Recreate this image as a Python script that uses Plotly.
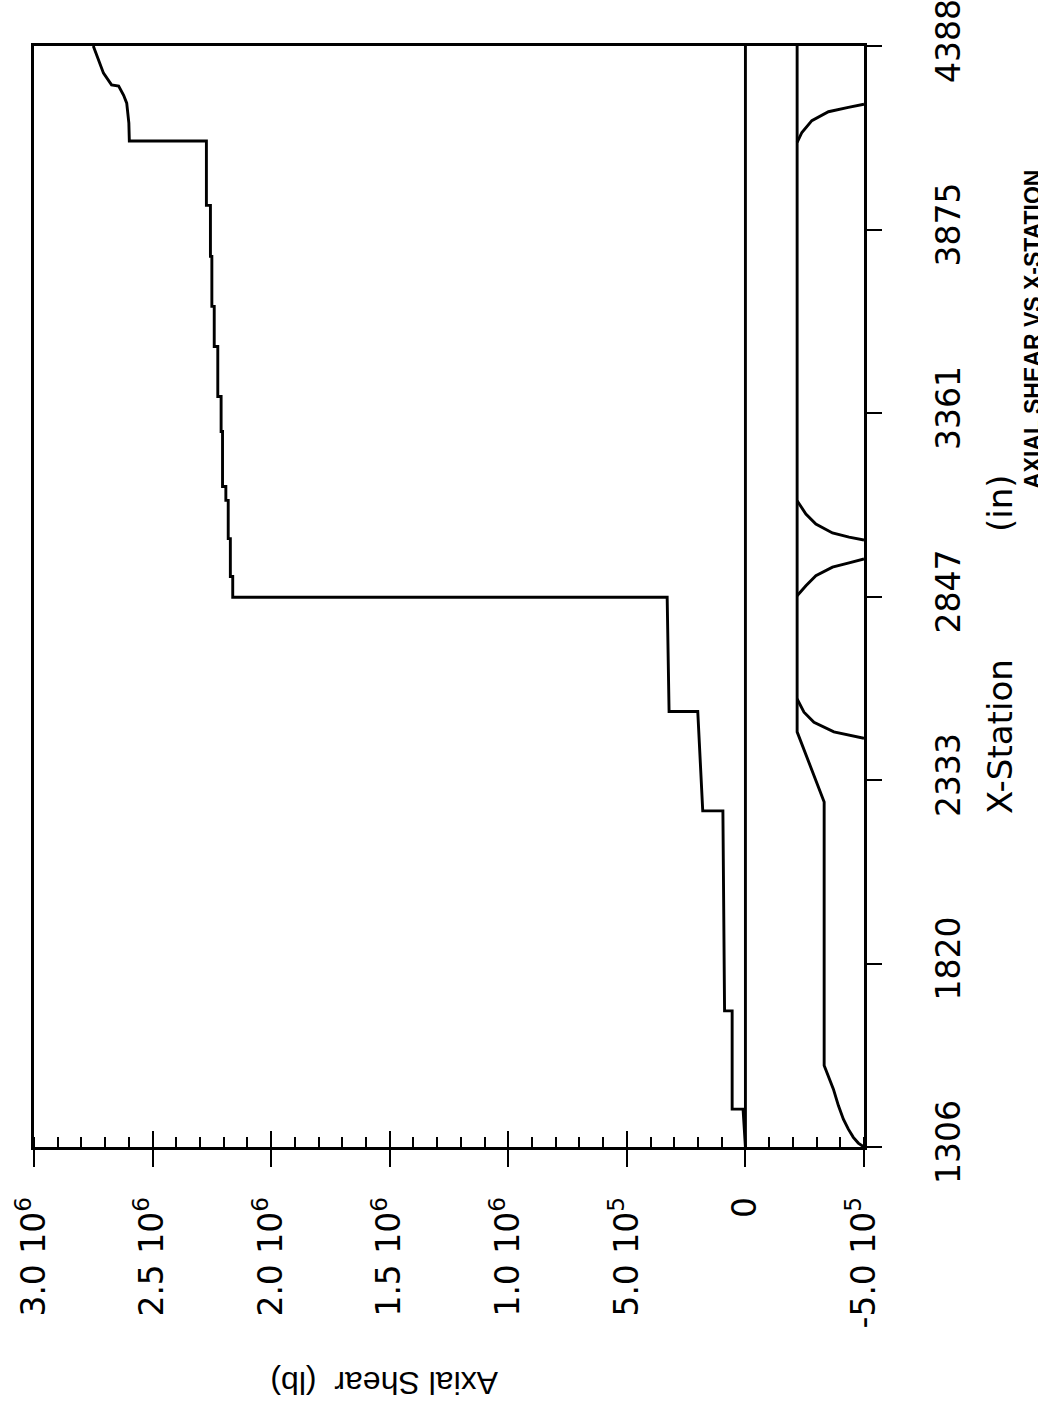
import plotly.graph_objects as go

# ---------------- data (station in inches, axial shear in lb) ----------------
main_station = [1306, 1412, 1412, 1687, 1687, 2247, 2247, 2525, 2525, 2845,
                2845, 2903, 2903, 3009, 3009, 3116, 3116, 3155, 3155, 3309,
                3309, 3407, 3407, 3547, 3547, 3659, 3659, 3799, 3799, 3942,
                3942, 4122, 4122, 4172, 4228, 4250, 4276, 4279, 4312, 4346,
                4368, 4388]
main_shear = [0, 1.0e4, 5.6e4, 5.6e4, 8.8e4, 9.5e4, 1.80e5, 2.01e5, 3.22e5, 3.30e5,
              2.162e6, 2.162e6, 2.172e6, 2.172e6, 2.181e6, 2.181e6, 2.191e6, 2.191e6, 2.205e6, 2.205e6,
              2.211e6, 2.211e6, 2.225e6, 2.225e6, 2.240e6, 2.240e6, 2.250e6, 2.250e6, 2.256e6, 2.256e6,
              2.273e6, 2.273e6, 2.598e6, 2.600e6, 2.609e6, 2.622e6, 2.643e6, 2.673e6, 2.707e6, 2.725e6,
              2.737e6, 2.750e6]

zero_station = [1306, 4388]
zero_shear = [0, 0]

lineA_station = [1306, 1317, 1333, 1356, 1384, 1422, 1468, 1506, 1534, 2272, 2468, 4388]
lineA_shear = [-5.0e5, -4.76e5, -4.55e5, -4.34e5, -4.13e5, -3.92e5, -3.71e5, -3.50e5,
               -3.32e5, -3.32e5, -2.18e5, -2.18e5]

branch1_station = [2450, 2468, 2495, 2523, 2560]
branch1_shear = [-5.0e5, -3.73e5, -2.89e5, -2.47e5, -2.18e5]

branch2_station = [2849, 2877, 2905, 2929, 2941, 2952]
branch2_shear = [-2.18e5, -2.55e5, -2.97e5, -3.67e5, -4.37e5, -5.0e5]

branch3_station = [3005, 3013, 3025, 3050, 3078, 3115]
branch3_shear = [-5.0e5, -4.37e5, -3.67e5, -2.97e5, -2.55e5, -2.18e5]

branch4_station = [4118, 4146, 4179, 4204, 4216, 4225]
branch4_shear = [-2.18e5, -2.38e5, -2.80e5, -3.50e5, -4.34e5, -5.0e5]

shear_tickvals = [3.0e6, 2.5e6, 2.0e6, 1.5e6, 1.0e6, 5.0e5, 0, -5.0e5]
shear_ticktext = ["3.0\u00a010<sup>6</sup>", "2.5\u00a010<sup>6</sup>", "2.0\u00a010<sup>6</sup>",
                  "1.5\u00a010<sup>6</sup>", "1.0\u00a010<sup>6</sup>", "5.0\u00a010<sup>5</sup>",
                  "0", "-5.0\u00a010<sup>5</sup>"]
station_tickvals = [1306, 1819.67, 2333.33, 2847, 3360.67, 3874.33, 4388]
station_ticktext = ["1306", "1820", "2333", "2847", "3361", "3875", "4388"]

# ---------------- figure ----------------
W, H = 1038, 1414
L, R, T, B = 34, 864, 46, 1147

def px(xp):
    return (xp - L) / (R - L)

def py(yp):
    return (B - yp) / (B - T)

line_style = dict(color="black", width=2.9)
fig = go.Figure()

def add(xs, ys, xaxis="x"):
    fig.add_trace(go.Scatter(x=xs, y=ys, mode="lines", line=line_style,
                             xaxis=xaxis, yaxis="y", showlegend=False, hoverinfo="skip"))

add(zero_shear, zero_station, xaxis="x2")
add(main_shear, main_station)
add(lineA_shear, lineA_station)
add(branch1_shear, branch1_station)
add(branch2_shear, branch2_station)
add(branch3_shear, branch3_station)
add(branch4_shear, branch4_station)

tick_font = dict(family="DejaVu Sans", size=33, color="black")

fig.update_layout(
    width=W, height=H,
    margin=dict(l=L, r=W - R, t=T, b=H - B, pad=0, autoexpand=False),
    paper_bgcolor="white", plot_bgcolor="white",
    showlegend=False,
    xaxis=dict(
        range=[3.0e6, -5.0e5], autorange=False, automargin=False,
        tickmode="array", tickvals=shear_tickvals, ticktext=shear_ticktext,
        tickangle=-90, tickfont=tick_font, ticklabelstandoff=17,
        ticklabeloverflow="allow",
        ticks="outside", ticklen=17, tickwidth=2, tickcolor="black",
        minor=dict(ticks="inside", ticklen=10, tickwidth=2, tickcolor="black",
                   dtick=1e5, tick0=0, showgrid=False),
        showline=True, linewidth=2.5, linecolor="black", mirror=True,
        showgrid=False, zeroline=False,
    ),
    xaxis2=dict(
        overlaying="x", matches="x", anchor="y", side="bottom", automargin=False,
        tickmode="array", tickvals=shear_tickvals, showticklabels=False,
        ticks="inside", ticklen=16, tickwidth=2, tickcolor="black",
        showline=False, showgrid=False, zeroline=False,
    ),
    yaxis=dict(
        range=[1306, 4388], autorange=False, side="right", automargin=False,
        tickmode="array", tickvals=station_tickvals, ticktext=station_ticktext,
        tickangle=-90, tickfont=dict(family="DejaVu Sans", size=33, color="black"),
        ticklabelstandoff=39, ticklabeloverflow="allow",
        ticks="outside", ticklen=15, tickwidth=2, tickcolor="black",
        showline=True, linewidth=2.5, linecolor="black", mirror=True,
        showgrid=False, zeroline=False,
    ),
)

# axis titles and page title (rotated, as on the page)
fig.add_annotation(text="Axial Shear\u00a0\u00a0(lb)", textangle=180,
                   x=px(384), y=py(1383), xref="paper", yref="paper",
                   xanchor="center", yanchor="middle", showarrow=False,
                   font=dict(family="Liberation Sans", size=32, color="black"))
fig.add_annotation(text="X-Station", textangle=-90,
                   x=px(1000), y=py(737), xref="paper", yref="paper",
                   xanchor="center", yanchor="middle", showarrow=False,
                   font=dict(family="DejaVu Sans", size=34, color="black"))
fig.add_annotation(text="(in)", textangle=-90,
                   x=px(1000), y=py(503), xref="paper", yref="paper",
                   xanchor="center", yanchor="middle", showarrow=False,
                   font=dict(family="DejaVu Sans", size=34, color="black"))
fig.add_annotation(text="<b>AXIAL SHEAR VS X-STATION</b>", textangle=-90,
                   x=px(1033), y=py(330), xref="paper", yref="paper",
                   xanchor="center", yanchor="middle", showarrow=False,
                   font=dict(family="Liberation Sans", size=23, color="black"))

# page body without default margin so the figure sits at the window's top-left corner
fig.write_html("out.html",
               config={"displayModeBar": False},
               post_script="document.body.style.margin='0px';")
